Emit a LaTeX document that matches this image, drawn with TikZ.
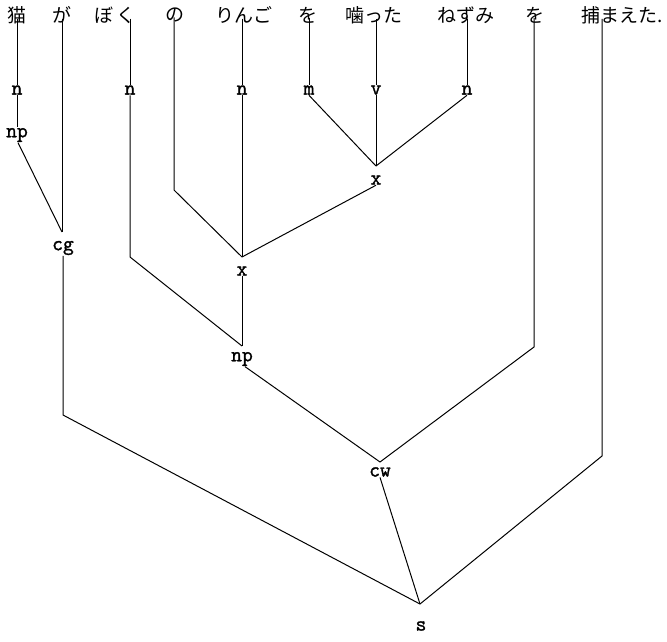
\documentclass[tikz,border=0pt]{standalone}
\usepackage{fontspec}
\newfontfamily\jpfont{Noto Sans CJK JP}
\newfontfamily\labfont{Latin Modern Mono}[BoldFont={Latin Modern Mono},BoldFeatures={FakeBold=1.5}]
\begin{document}
\begin{tikzpicture}[x=1pt,y=-1pt,
  word/.style={font=\jpfont\fontsize{19}{20}\selectfont, inner sep=0pt, anchor=center},
  lab/.style={font=\labfont\bfseries\fontsize{21}{21}\selectfont, inner sep=0.5pt},
  conn/.style={line width=1pt, line join=miter}]
\useasboundingbox (0,0) rectangle (667,641);
% words
\node[word] (w1) at (17,15) {猫};
\node[word] (w2) at (62,15) {が};
\node[word] (w3) at (115,15) {ぼ\,く};
\node[word] (w4) at (175,15) {の};
\node[word] (w5) at (244,15) {りんご};
\node[word] (w6) at (308,15) {を};
\node[word] (w7) at (374,15) {噛った};
\node[word] (w8) at (466,15) {ねずみ};
\node[word] (w9) at (535,15) {を};
\node[word] (w10) at (622,15) {捕まえた.};
% labels
\node[lab] (n1) at (17,90) {n};
\node[lab] (n3) at (130,90) {n};
\node[lab] (n5) at (242,90) {n};
\node[lab] (m6) at (309,90) {m};
\node[lab] (v7) at (376,90) {v};
\node[lab] (n8) at (467,90) {n};
\node[lab] (np1) at (17,135) {np};
\node[lab] (cg) at (63,248) {cg};
\node[lab] (x2) at (376,180) {x};
\node[lab] (x1) at (242,271) {x};
\node[lab] (np) at (242,359) {np};
\node[lab] (cw) at (380,472) {cw};
\node[lab] (S) at (421,626) {s};
% junctions and bends
\coordinate (jcg) at (62,232);
\coordinate (bcg) at (63,415);
\coordinate (b3) at (130,257);
\coordinate (b4) at (174,190);
\coordinate (j1) at (242,257);
\coordinate (jx2) at (376,166);
\coordinate (jnp) at (242,346);
\coordinate (b9) at (534,347);
\coordinate (jcw) at (380,462);
\coordinate (b10) at (602,456);
\coordinate (jS) at (420,604);
% connectors
\draw[conn] ([yshift=5pt]w1.south -| n1.north) -- (n1.north);
\draw[conn] (n1.south) -- (np1.north);
\draw[conn] ([xshift=1pt]np1.south) -- (jcg);
\draw[conn] ([yshift=5pt]w2.south) -- (jcg);
\draw[conn] (cg.south) -- (bcg) -- (jS);
\draw[conn] ([yshift=5pt]w3.south -| n3.north) -- (n3.north);
\draw[conn] (n3.south) -- (b3) -- (jnp);
\draw[conn] ([yshift=5pt]w4.south -| b4) -- (b4) -- (j1);
\draw[conn] ([yshift=5pt]w5.south -| n5.north) -- (n5.north);
\draw[conn] (n5.south) -- (j1);
\draw[conn] ([yshift=5pt]w6.south -| m6.north) -- (m6.north);
\draw[conn] (m6.south) -- (jx2);
\draw[conn] ([yshift=5pt]w7.south -| v7.north) -- (v7.north);
\draw[conn] (v7.south) -- (jx2);
\draw[conn] ([yshift=5pt]w8.south -| n8.north) -- (n8.north);
\draw[conn] (n8.south) -- (jx2);
\draw[conn] (x2.south) -- (j1);
\draw[conn] (x1.south) -- (jnp);
\draw[conn] ([xshift=3pt]np.south) -- (jcw);
\draw[conn] ([yshift=5pt]w9.south -| b9) -- (b9) -- (jcw);
\draw[conn] (cw.south) -- (jS);
\draw[conn] ([yshift=5pt]w10.south -| b10) -- (b10) -- (jS);
\end{tikzpicture}
\end{document}
